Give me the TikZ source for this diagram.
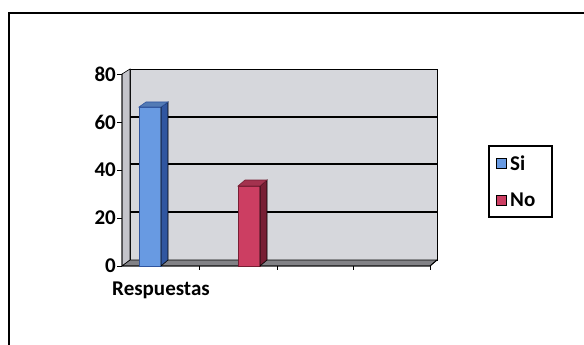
\documentclass[tikz,border=0pt]{standalone}
\usepackage{fontspec}
\setmainfont{Carlito}
\usepackage{xcolor}
\usetikzlibrary{positioning}
\definecolor{wallgray}{RGB}{214,215,220}
\definecolor{sidegray}{RGB}{196,196,202}
\definecolor{floorgray}{RGB}{130,130,134}
\definecolor{siblue}{RGB}{104,154,226}
\definecolor{sibluedark}{RGB}{48,86,160}
\definecolor{nored}{RGB}{204,62,98}
\definecolor{noreddark}{RGB}{120,30,52}

\begin{document}
\begin{tikzpicture}[x=1pt, y=-1pt, font=\fontsize{21}{23}\selectfont\bfseries]
  \useasboundingbox (0,0) rectangle (584,345);

  % Draw outer frame
  \draw[line width=1.4pt] (9,345) -- (9,13) -- (584,13);

  % Draw chart walls
  \draw[fill=wallgray, line width=0.6pt] (130,69) rectangle (437,260);
  \draw[fill=sidegray, line width=0.6pt] (122,74) -- (130,69) -- (130,260) -- (122,266) -- cycle;
  \draw[fill=floorgray, line width=0.6pt] (122,266) -- (130,260) -- (437,260) -- (430,266) -- cycle;

  % Draw grid lines
  \foreach \y in {117, 164, 212} {
    \draw[line width=1.2pt] (130,\y) -- (437,\y);
  }

  % Draw value axis
  \draw[line width=0.9pt] (122,74) -- (122,266) -- (430,266) -- (437,260);
  \foreach \v/\y in {80/74, 60/122, 40/170, 20/218, 0/266} {
    \draw[line width=0.9pt] (117,\y) -- (122,\y);
    \node[left, inner sep=1pt] (tick\v) at (117,\y) {\v};
  }
  \foreach \x in {199, 277, 353, 430} {
    \draw[line width=0.9pt] (\x,266) -- (\x,270);
  }

  % Draw bars
  \draw[fill=siblue, draw=sibluedark, line width=0.6pt] (139,107) rectangle (161,266);
  \draw[fill=sibluedark, line width=0.6pt] (161,107) -- (168,102) -- (168,260) -- (161,266) -- cycle;
  \draw[fill=siblue!80!black, draw=sibluedark, line width=0.6pt] (139,107) -- (146,102) -- (168,102) -- (161,107) -- cycle;

  \draw[fill=nored, draw=noreddark, line width=0.6pt] (238,186) rectangle (260,266);
  \draw[fill=noreddark, line width=0.6pt] (260,186) -- (267,180) -- (267,260) -- (260,266) -- cycle;
  \draw[fill=nored!80!black, draw=noreddark, line width=0.6pt] (238,186) -- (245,180) -- (267,180) -- (260,186) -- cycle;

  % Labels
  \node (category) at (161,290) {Respuestas};

  % Draw legend
  \draw[line width=1.2pt] (489,146) rectangle (552,217);
  \draw[fill=siblue, draw=black, line width=0.8pt] (496,158) rectangle (506,168);
  \node[right, inner sep=0pt] (legsi) at (510,163) {Si};
  \draw[fill=nored, draw=black, line width=0.8pt] (496,195) rectangle (506,205);
  \node[right, inner sep=0pt] (legno) at (510,200) {No};
\end{tikzpicture}
\end{document}
